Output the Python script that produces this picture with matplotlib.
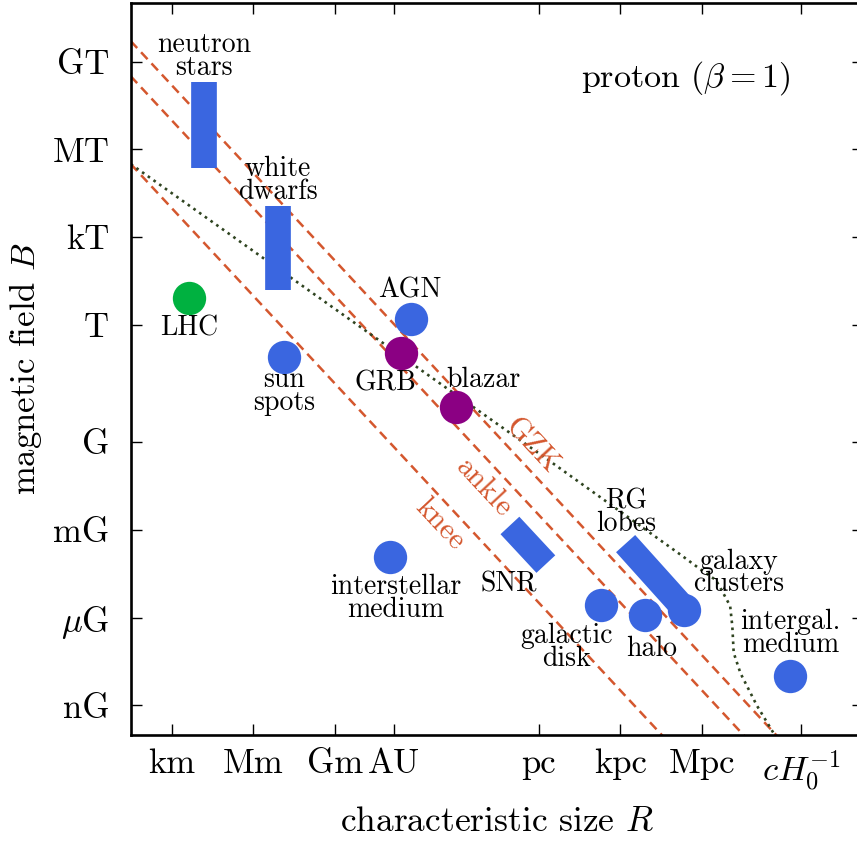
import matplotlib
matplotlib.use('Agg')
import matplotlib.pyplot as plt
import numpy as np

plt.rcParams['font.family'] = 'serif'
plt.rcParams['font.serif'] = ['cmr10']
plt.rcParams['mathtext.fontset'] = 'cm'
plt.rcParams['axes.unicode_minus'] = False

# all values are log10 of R [m] and B [T]
xticks = [3, 6, 9, 11.17, 16.49, 19.49, 22.49, 26.14]
xticklabels = ['km', 'Mm', 'Gm', 'AU', 'pc', 'kpc', 'Mpc', '$cH_0^{-1}$']
yticks = [-13, -10, -7, -4, 0, 3, 6, 9]
yticklabels = ['nG', '$\\mu$G', 'mG', 'G', 'T', 'kT', 'MT', 'GT']

# Hillas lines: log B + log R = const
line_names = ['knee', 'ankle', 'GZK']
line_sums = [7.0, 10.0, 11.2]
line_label_x = [12.86, 14.46, 16.24]
line_label_y = [-6.82, -5.57, -4.15]

# dotted loss limit
loss_x = [1.5, 12.5, 17.0, 21.7, 22.4, 23.0, 23.3, 23.52, 23.6, 23.65, 23.9, 24.5, 25.15]
loss_y = [5.5, -1.76, -4.72, -7.85, -8.33, -8.72, -9.22, -9.6, -10.3, -11.2, -11.9, -13.0, -14.0]

# point sources
dot_names = ['LHC', 'sun spots', 'AGN', 'GRB', 'blazar', 'interstellar medium',
             'galactic disk', 'halo', 'galaxy clusters', 'intergal. medium']
dot_x = [3.64, 7.13, 11.79, 11.44, 13.44, 11.04, 18.76, 20.39, 21.81, 25.71]
dot_y = [0.93, -1.08, 0.19, -0.97, -2.79, -7.92, -9.57, -9.92, -9.74, -11.99]
dot_colors = ['#00b140', '#3a66e0', '#3a66e0', '#8b0083', '#8b0083', '#3a66e0',
              '#3a66e0', '#3a66e0', '#3a66e0', '#3a66e0']

# extended sources (thick bars)
bar_names = ['neutron stars', 'white dwarfs', 'SNR', 'RG lobes']
bar_x0 = [4.18, 6.91, 15.43, 19.68]
bar_x1 = [4.18, 6.91, 16.75, 21.69]
bar_y0 = [8.30, 4.07, -6.85, -7.47]
bar_y1 = [5.38, 1.19, -8.17, -9.55]

# label positions
label_text = ['neutron\nstars', 'white\ndwarfs', 'LHC', 'sun\nspots', 'AGN', 'GRB', 'blazar',
              'interstellar\nmedium', 'SNR', 'galactic\ndisk', 'halo', 'RG\nlobes',
              'galaxy\nclusters', 'intergal.\nmedium']
label_x = [4.19, 6.91, 3.64, 7.13, 11.76, 10.84, 14.44, 11.25, 15.40, 17.52, 20.65, 19.70, 23.82, 25.73]
label_y = [9.17, 4.94, -0.10, -2.27, 1.19, -1.99, -1.88, -9.34, -8.87, -11.01, -11.05, -6.41, -8.47, -10.54]

blue = '#3a66e0'
orange = '#d4572e'

fig = plt.figure(figsize=(8.57, 8.42), dpi=100)
ax = fig.add_axes([0.1525, 0.1274, 0.8545, 0.869])
xmin, xmax = 1.5, 28.4
ymin, ymax = -14, 11

xs = np.array([xmin, xmax])
for name, s, lx, ly in zip(line_names, line_sums, line_label_x, line_label_y):
    ax.plot(xs, s - xs, '--', color=orange, lw=1.8, dashes=(3.8, 2.3))
    ax.text(lx, ly, name, color=orange, fontsize=21.5, rotation=-47,
            ha='center', va='center', rotation_mode='anchor')

ax.plot(loss_x, loss_y, ':', color='#2f4420', lw=1.9)

for x0, x1, y0, y1 in zip(bar_x0, bar_x1, bar_y0, bar_y1):
    ax.plot([x0, x1], [y0, y1], color=blue, lw=18.5, solid_capstyle='butt')

for x, y, c in zip(dot_x, dot_y, dot_colors):
    ax.plot(x, y, 'o', color=c, ms=24, mew=0)

for t, x, y in zip(label_text, label_x, label_y):
    ax.text(x, y, t, fontsize=20, ha='center', va='center', linespacing=0.82)

ax.text(21.87, 8.45, 'proton ($\\beta = 1$)', fontsize=24.5, ha='center', va='center')

ax.set_xlim(xmin, xmax)
ax.set_ylim(ymin, ymax)
ax.set_xticks(xticks)
ax.set_xticklabels(xticklabels, fontsize=25)
ax.set_yticks(yticks)
ax.set_yticklabels(yticklabels, fontsize=25)
ax.tick_params(direction='in', length=8, width=1, top=True, right=True)
ax.tick_params(axis='x', pad=10)
ax.tick_params(axis='y', pad=15.5)
for sp in ax.spines.values():
    sp.set_linewidth(1.9)
ax.set_xlabel('characteristic size $R$', fontsize=25.5, labelpad=10)
ax.set_ylabel('magnetic field $B$', fontsize=25, labelpad=6)

fig.savefig('out.png', dpi=100)
